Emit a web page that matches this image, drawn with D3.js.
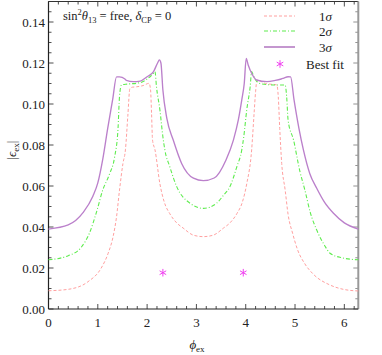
<!DOCTYPE html>
<html>
<head>
<meta charset="utf-8">
<script src="https://cdn.jsdelivr.net/npm/d3@7"></script>
<style>
  body { margin: 0; background: #fff; }
  text { font-family: "Liberation Serif", "DejaVu Serif", serif; fill: #222; }
</style>
</head>
<body>
<div id="chart"></div>
<script>
// data
const phi1 = [0, 0.4, 0.8, 1.07, 1.21, 1.31, 1.38, 1.44, 1.51, 1.56, 1.61, 1.65, 1.7, 1.79, 1.92, 2.04, 2.07, 2.09, 2.11, 2.16, 2.26, 2.35, 2.46, 2.6, 2.73, 2.94, 3.14, 3.34, 3.55, 3.68, 3.82, 3.93, 4.02, 4.12, 4.17, 4.2, 4.23, 4.4, 4.63, 4.66, 4.69, 4.73, 4.8, 4.86, 4.95, 5.05, 5.2, 5.37, 5.71, 6.0, 6.283];
const eps1 = [0.0089, 0.0096, 0.0133, 0.020, 0.0272, 0.0353, 0.045, 0.058, 0.071, 0.0776, 0.0946, 0.1075, 0.1082, 0.1084, 0.109, 0.1101, 0.1068, 0.0955, 0.0824, 0.0776, 0.061, 0.052, 0.0465, 0.042, 0.0395, 0.036, 0.0353, 0.036, 0.0395, 0.042, 0.0465, 0.052, 0.061, 0.0776, 0.0955, 0.106, 0.1117, 0.110, 0.1093, 0.1036, 0.088, 0.071, 0.058, 0.046, 0.037, 0.029, 0.022, 0.017, 0.0117, 0.0095, 0.0088];

const phi2 = [0, 0.4, 0.66, 0.83, 0.97, 1.1, 1.24, 1.34, 1.41, 1.44, 1.48, 1.6, 1.86, 1.99, 2.13, 2.16, 2.19, 2.26, 2.32, 2.36, 2.46, 2.6, 2.87, 3.14, 3.41, 3.55, 3.68, 3.82, 3.92, 3.96, 4.02, 4.09, 4.12, 4.16, 4.29, 4.56, 4.8, 4.83, 4.86, 4.97, 5.1, 5.2, 5.31, 5.44, 5.6, 5.71, 5.95, 6.283];
const eps2 = [0.024, 0.026, 0.030, 0.037, 0.047, 0.058, 0.066, 0.074, 0.088, 0.1036, 0.1093, 0.1097, 0.1104, 0.112, 0.115, 0.1158, 0.1084, 0.097, 0.084, 0.0776, 0.0694, 0.0597, 0.0516, 0.0491, 0.0516, 0.0555, 0.0597, 0.0694, 0.0776, 0.084, 0.097, 0.1084, 0.1158, 0.1135, 0.110, 0.1093, 0.1093, 0.1036, 0.092, 0.0824, 0.067, 0.058, 0.047, 0.0385, 0.031, 0.0272, 0.025, 0.024];

const phi3 = [0, 0.4, 0.7, 0.9, 1.0, 1.1, 1.2, 1.3, 1.38, 1.44, 1.55, 1.58, 1.72, 1.86, 2.0, 2.13, 2.21, 2.25, 2.28, 2.32, 2.4, 2.53, 2.7, 2.94, 3.14, 3.36, 3.6, 3.75, 3.85, 3.92, 3.97, 4.01, 4.05, 4.13, 4.22, 4.43, 4.6, 4.72, 4.76, 4.86, 4.91, 4.98, 5.08, 5.17, 5.3, 5.44, 5.6, 5.78, 6.0, 6.283];
const eps3 = [0.039, 0.041, 0.047, 0.055, 0.0615, 0.073, 0.088, 0.102, 0.1132, 0.1132, 0.1122, 0.1115, 0.1109, 0.1112, 0.1133, 0.1158, 0.1199, 0.1215, 0.120, 0.1068, 0.093, 0.0824, 0.071, 0.0638, 0.0626, 0.0639, 0.0727, 0.0824, 0.0922, 0.102, 0.110, 0.1222, 0.119, 0.1145, 0.1117, 0.1109, 0.1115, 0.1122, 0.1125, 0.1133, 0.1132, 0.102, 0.088, 0.0776, 0.066, 0.0589, 0.052, 0.0467, 0.042, 0.039];

const bestPhi = [2.32, 3.95];
const bestEps = [0.0177, 0.0177];

const xTicks = [0, 1, 2, 3, 4, 5, 6];
const yTicks = [0, 0.02, 0.04, 0.06, 0.08, 0.10, 0.12, 0.14];
const legendLabels = ["1", "2", "3", "Best fit"];

const W = 382, H = 355;
const pLeft = 48.5, pRight = 358.3, pTop = 1.5, pBottom = 309;

const svg = d3.select("#chart").append("svg")
  .attr("width", W).attr("height", H);

const x = d3.scaleLinear().domain([0, 2 * Math.PI]).range([pLeft, pRight]);
const y = d3.scaleLinear().domain([0, 0.15]).range([pBottom, pTop]);

// ticks (inward, all four sides)
const xMinor = d3.range(0, 6.3, 0.2);
const yMinor = d3.range(0, 0.1501, 0.005);

const tickG = svg.append("g").attr("stroke", "#222").attr("stroke-width", 0.8);
xMinor.forEach(v => {
  const major = Math.abs(v - Math.round(v)) < 1e-6;
  const len = major ? 5 : 3;
  tickG.append("line").attr("x1", x(v)).attr("x2", x(v)).attr("y1", pBottom).attr("y2", pBottom - len);
  tickG.append("line").attr("x1", x(v)).attr("x2", x(v)).attr("y1", pTop).attr("y2", pTop + len);
});
yMinor.forEach(v => {
  const major = Math.abs(v / 0.02 - Math.round(v / 0.02)) < 1e-6;
  const len = major ? 5 : 3;
  tickG.append("line").attr("x1", pLeft).attr("x2", pLeft + len).attr("y1", y(v)).attr("y2", y(v));
  tickG.append("line").attr("x1", pRight).attr("x2", pRight - len).attr("y1", y(v)).attr("y2", y(v))
    .attr("stroke", "#777");
});

// frame
svg.append("line").attr("x1", pLeft).attr("x2", pRight).attr("y1", pTop).attr("y2", pTop)
  .attr("stroke", "#333").attr("stroke-width", 1);
svg.append("line").attr("x1", pRight).attr("x2", pRight).attr("y1", pTop).attr("y2", pBottom)
  .attr("stroke", "#999").attr("stroke-width", 2);
svg.append("line").attr("x1", pLeft).attr("x2", pRight).attr("y1", pBottom).attr("y2", pBottom)
  .attr("stroke", "#222").attr("stroke-width", 1.2);
svg.append("line").attr("x1", pLeft).attr("x2", pLeft).attr("y1", pTop).attr("y2", pBottom)
  .attr("stroke", "#222").attr("stroke-width", 1.2);

// tick labels
svg.append("g").selectAll("text").data(xTicks).join("text")
  .attr("x", d => x(d)).attr("y", 327)
  .attr("text-anchor", "middle").attr("font-size", 13)
  .text(d => d);
svg.append("g").selectAll("text").data(yTicks).join("text")
  .attr("x", 45).attr("y", d => y(d) + 4.5)
  .attr("text-anchor", "end").attr("font-size", 13)
  .text(d => d.toFixed(2));

// axis titles
const xt = svg.append("text").attr("x", 197).attr("y", 349).attr("font-size", 13).attr("text-anchor", "middle");
xt.append("tspan").attr("font-style", "italic").text("ϕ");
xt.append("tspan").attr("font-size", 9).attr("dy", 3).text("ex");

const yt = svg.append("text").attr("transform", "translate(16,150) rotate(-90)")
  .attr("font-size", 13).attr("text-anchor", "middle");
yt.append("tspan").text("|");
yt.append("tspan").attr("font-style", "italic").text("ϵ");
yt.append("tspan").attr("font-size", 9).attr("dy", 3).text("ex");
yt.append("tspan").attr("dy", -3).text("|");

// annotation
const ann = svg.append("text").attr("x", 63).attr("y", 20).attr("font-size", 12.5);
ann.append("tspan").text("sin");
ann.append("tspan").attr("font-size", 8.5).attr("dy", -5).text("2");
ann.append("tspan").attr("font-style", "italic").attr("dy", 5).text("θ");
ann.append("tspan").attr("font-size", 8.5).attr("dy", 3).text("13");
ann.append("tspan").attr("dy", -3).text(" = free, ");
ann.append("tspan").attr("font-style", "italic").text("δ");
ann.append("tspan").attr("font-size", 8.5).attr("dy", 3).text("CP");
ann.append("tspan").attr("dy", -3).text(" = 0");

// curves
const series = [
  {phi: phi1, eps: eps1, color: "#ffa0a0", width: 1, dash: "3,2"},
  {phi: phi2, eps: eps2, color: "#5fec4f", width: 1.1, dash: "4,2,1,2"},
  {phi: phi3, eps: eps3, color: "#bb80cb", width: 1.35, dash: null}
];
const line = d3.line().x(d => x(d[0])).y(d => y(d[1])).curve(d3.curveMonotoneX);
series.forEach(s => {
  svg.append("path")
    .datum(d3.zip(s.phi, s.eps))
    .attr("d", line)
    .attr("fill", "none")
    .attr("stroke", s.color)
    .attr("stroke-width", s.width)
    .attr("stroke-dasharray", s.dash);
});

// best fit stars
const star = d3.symbol().type(d3.symbolAsterisk).size(40);
svg.append("g").selectAll("path").data(d3.zip(bestPhi, bestEps)).join("path")
  .attr("transform", d => `translate(${x(d[0])},${y(d[1])})`)
  .attr("d", star)
  .attr("fill", "none").attr("stroke", "#f040f0").attr("stroke-width", 1);

// legend
const leg = svg.append("g");
const legY = [16, 31, 47, 64];
series.forEach((s, i) => {
  leg.append("line").attr("x1", 264).attr("x2", 295).attr("y1", legY[i]).attr("y2", legY[i])
    .attr("stroke", i === 2 ? "#a866b8" : s.color).attr("stroke-width", s.width)
    .attr("stroke-dasharray", s.dash);
  const t = leg.append("text").attr("x", 319).attr("y", legY[i] + 4.5).attr("font-size", 13);
  t.append("tspan").text(legendLabels[i]);
  t.append("tspan").attr("font-style", "italic").text("σ");
});
leg.append("path").attr("transform", `translate(280,${legY[3]})`).attr("d", star)
  .attr("fill", "none").attr("stroke", "#f040f0").attr("stroke-width", 1);
leg.append("text").attr("x", 306).attr("y", legY[3] + 4.5).attr("font-size", 13).text(legendLabels[3]);
</script>
</body>
</html>
